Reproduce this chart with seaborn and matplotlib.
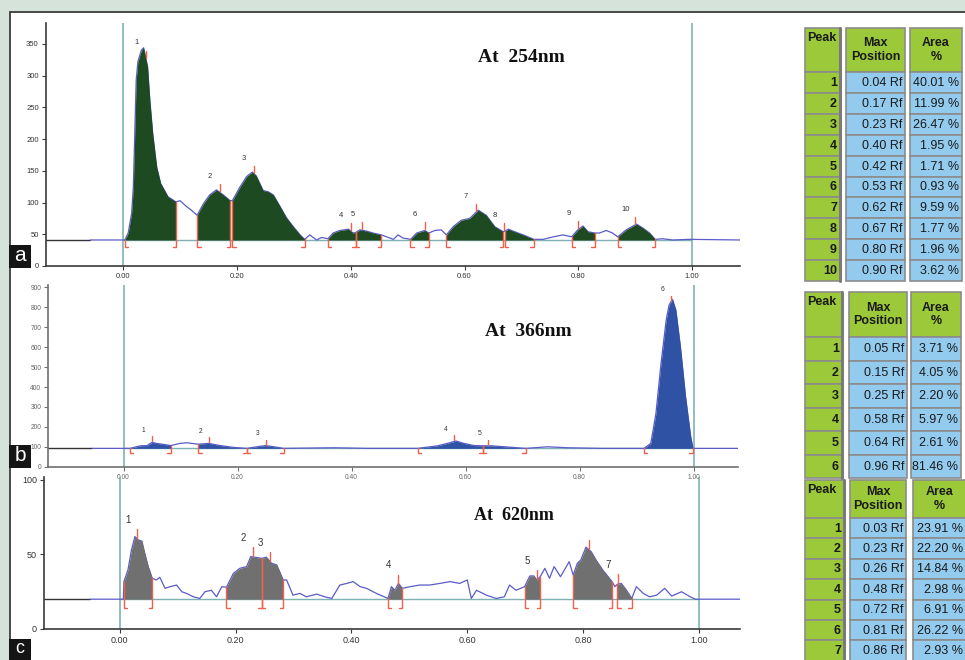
import numpy as np
import pandas as pd
import matplotlib
matplotlib.use("Agg")
import matplotlib.pyplot as plt
from matplotlib.patches import Rectangle
import seaborn as sns

sns.set_style("ticks")
plt.rcParams['font.family'] = ['Liberation Sans', 'DejaVu Sans']

# ---- densitogram traces (Rf, intensity) ----
a_rf = [-0.058, 0.003, 0.009, 0.015, 0.018, 0.021, 0.023, 0.026, 0.032, 0.036, 0.043, 0.047,
        0.052, 0.059, 0.066, 0.079, 0.093, 0.100, 0.111, 0.120, 0.130, 0.141, 0.152, 0.164,
        0.176, 0.188, 0.192, 0.205, 0.217, 0.227, 0.234, 0.246, 0.255, 0.264, 0.275, 0.287,
        0.299, 0.311, 0.319, 0.328, 0.340, 0.349, 0.360, 0.369, 0.381, 0.396, 0.404, 0.409,
        0.416, 0.428, 0.439, 0.454, 0.463, 0.475, 0.483, 0.492, 0.505, 0.516, 0.530, 0.537,
        0.548, 0.559, 0.568, 0.580, 0.594, 0.609, 0.624, 0.638, 0.653, 0.668, 0.671, 0.677,
        0.688, 0.703, 0.722, 0.738, 0.756, 0.773, 0.788, 0.799, 0.808, 0.817, 0.829, 0.837,
        0.849, 0.860, 0.869, 0.884, 0.902, 0.913, 0.925, 0.935, 0.948, 0.966, 0.995, 1.084]
a_val = [41, 41, 52, 83, 125, 225, 293, 322, 340, 344, 314, 261,
         209, 156, 130, 109, 101, 103, 94, 88, 80, 98, 112, 120,
         112, 103, 103, 124, 141, 148, 142, 119, 117, 112, 95, 76,
         62, 49, 42, 49, 41, 45, 43, 52, 56, 58, 52, 53,
         57, 55, 52, 49, 46, 42, 49, 44, 42, 52, 56, 52,
         56, 57, 49, 62, 72, 75, 88, 80, 62, 54, 55, 58,
         54, 49, 42, 42, 46, 49, 46, 57, 63, 54, 52, 52,
         56, 52, 46, 57, 66, 60, 52, 42, 43, 41, 42, 41]
a_start = [0.003, 0.130, 0.192, 0.360, 0.409, 0.505, 0.568, 0.671, 0.788, 0.869]
a_end = [0.093, 0.188, 0.319, 0.409, 0.454, 0.537, 0.668, 0.722, 0.829, 0.935]

b_rf = [-0.055, 0.011, 0.030, 0.041, 0.050, 0.058, 0.070, 0.083, 0.099, 0.111, 0.131, 0.149,
        0.170, 0.193, 0.216, 0.234, 0.249, 0.264, 0.281, 0.369, 0.428, 0.516, 0.551, 0.568,
        0.583, 0.597, 0.615, 0.630, 0.645, 0.668, 0.706, 0.744, 0.779, 0.840, 0.913, 0.925,
        0.934, 0.943, 0.952, 0.957, 0.963, 0.969, 0.977, 0.986, 0.995, 0.999, 1.078]
b_val = [92, 92, 105, 106, 122, 117, 112, 106, 117, 120, 113, 117,
         106, 97, 92, 100, 106, 100, 92, 95, 92, 92, 105, 117,
         129, 117, 106, 105, 105, 100, 92, 100, 95, 92, 92, 117,
         267, 519, 736, 811, 840, 786, 602, 351, 151, 92, 92]
b_start = [0.011, 0.131, 0.216, 0.516, 0.630, 0.913]
b_end = [0.083, 0.216, 0.281, 0.630, 0.706, 0.999]

c_rf = [-0.052, 0.006, 0.007, 0.014, 0.020, 0.026, 0.032, 0.038, 0.043, 0.049, 0.056, 0.063,
        0.069, 0.078, 0.087, 0.098, 0.107, 0.115, 0.127, 0.138, 0.147, 0.158, 0.167, 0.176,
        0.184, 0.196, 0.207, 0.219, 0.226, 0.233, 0.245, 0.253, 0.262, 0.271, 0.282, 0.288,
        0.299, 0.311, 0.322, 0.340, 0.354, 0.366, 0.380, 0.392, 0.403, 0.415, 0.426, 0.443,
        0.463, 0.469, 0.475, 0.481, 0.488, 0.501, 0.518, 0.535, 0.553, 0.570, 0.587, 0.600,
        0.607, 0.616, 0.633, 0.650, 0.664, 0.673, 0.684, 0.699, 0.708, 0.715, 0.720, 0.726,
        0.734, 0.742, 0.750, 0.761, 0.776, 0.783, 0.790, 0.796, 0.805, 0.814, 0.823, 0.834,
        0.850, 0.855, 0.859, 0.866, 0.875, 0.884, 0.892, 0.904, 0.915, 0.927, 0.941, 0.953,
        0.970, 0.985, 0.994, 1.071]
c_val = [20, 20, 31.8, 39.6, 53, 62, 59.7, 59, 50.8, 41.9, 34, 32.9,
         34.7, 27.3, 28.4, 29.5, 25, 23.9, 21.6, 20.5, 25, 26, 21.6, 28.4,
         28, 37.3, 40.7, 41.9, 48.6, 48.2, 47.4, 48.2, 44.1, 43, 32.9, 32.9,
         22.7, 23.9, 21.6, 23.4, 21.6, 20.5, 29.5, 30.6, 31.8, 28.4, 27.3, 23.9,
         20.5, 28.4, 26, 30.6, 27.3, 28.4, 29.5, 29.5, 30.6, 31.8, 30.6, 32.9,
         20.5, 26, 22.7, 20.5, 21.6, 29.5, 26, 28.4, 35.6, 35.6, 32.9, 35.1,
         40.7, 34, 41.9, 35.1, 45.2, 36.2, 44.1, 46.3, 54.9, 51.9, 45.9, 39.6,
         31.8, 28.4, 30, 30.6, 26, 20.5, 28.4, 23.9, 21.6, 22.7, 27.3, 22.1,
         25, 21.6, 20, 20]
c_start = [0.007, 0.184, 0.245, 0.463, 0.699, 0.783, 0.859]
c_end = [0.056, 0.245, 0.282, 0.488, 0.726, 0.850, 0.884]

# ---- peak tables ----
t1_peak = [1, 2, 3, 4, 5, 6, 7, 8, 9, 10]
t1_pos = [0.04, 0.17, 0.23, 0.40, 0.42, 0.53, 0.62, 0.67, 0.80, 0.90]
t1_area = [40.01, 11.99, 26.47, 1.95, 1.71, 0.93, 9.59, 1.77, 1.96, 3.62]

t2_peak = [1, 2, 3, 4, 5, 6]
t2_pos = [0.05, 0.15, 0.25, 0.58, 0.64, 0.96]
t2_area = [3.71, 4.05, 2.20, 5.97, 2.61, 81.46]

t3_peak = [1, 2, 3, 4, 5, 6, 7]
t3_pos = [0.03, 0.23, 0.26, 0.48, 0.72, 0.81, 0.86]
t3_area = [23.91, 22.20, 14.84, 2.98, 6.91, 26.22, 2.93]
t3_labels = ['1', '2', '3', '4', '5', '', '7']

W, H = 965, 660
TEAL = '#7fb2b4'
TRACE = '#5b5bc9'
RED = '#f0604a'
GREEN = '#9bc93a'
BLUE = '#93cbef'
EDGE = '#8c8c8c'

fig = plt.figure(figsize=(W / 100, H / 100), dpi=100, facecolor='#d6e3da')
bg = fig.add_axes([0, 0, 1, 1], zorder=0)
bg.set_xlim(0, W)
bg.set_ylim(H, 0)
bg.axis('off')
bg.add_patch(Rectangle((10, 12), W - 10, H - 12, facecolor='white', edgecolor='none'))
bg.plot([10, 10], [12, H], color='#3c3c3c', lw=1.3)
bg.plot([10, W], [12, 12], color='#3c3c3c', lw=1.3)


def panel(box, xlim, ylim, yticks, fs, spine_col):
    l, r, t, b = box
    ax = fig.add_axes([l / W, 1 - b / H, (r - l) / W, (b - t) / H], zorder=1)
    ax.set_facecolor('none')
    ax.set_xlim(*xlim)
    ax.set_ylim(*ylim)
    ax.set_xticks([0, 0.2, 0.4, 0.6, 0.8, 1.0])
    ax.set_xticklabels(['%.2f' % v for v in [0, 0.2, 0.4, 0.6, 0.8, 1.0]])
    ax.set_yticks(yticks)
    for s in ['top', 'right']:
        ax.spines[s].set_visible(False)
    for s in ['left', 'bottom']:
        ax.spines[s].set_color(spine_col)
        ax.spines[s].set_linewidth(1.2)
    ax.tick_params(direction='out', length=3, width=0.8, colors=spine_col,
                   labelsize=fs, labelcolor='#333333', pad=2)
    return ax, (r - l) / (xlim[1] - xlim[0]), (b - t) / (ylim[1] - ylim[0])


def chrom(ax, sx, sy, rf, val, base, starts, ends, maxpos, labels, fill,
          bracket_px, mark_px, lab_fs, lab_off):
    rf = np.array(rf, float)
    val = np.array(val, float)
    x0 = ax.get_xlim()[0]
    ax.plot([x0, rf[0]], [base, base], color='#333333', lw=1.0, zorder=2)
    ax.plot([0, 1], [base, base], color=TEAL, lw=1.0, zorder=2)
    ax.axvline(0, color=TEAL, lw=1.2, zorder=2)
    ax.axvline(1, color=TEAL, lw=1.2, zorder=2)
    df = pd.DataFrame({'Rf': rf, 'value': val})
    sns.lineplot(data=df, x='Rf', y='value', ax=ax, color=TRACE, lw=0.9,
                 sort=False, estimator=None, zorder=3)
    ax.set_xlabel('')
    ax.set_ylabel('')
    dy = bracket_px / sy
    fx = 3.5 / sx
    for s, e in zip(starts, ends):
        inner = rf[(rf > s) & (rf < e)]
        xs = np.concatenate([[s], inner, [e]])
        ys = np.interp(xs, rf, val)
        ax.fill_between(xs, base, ys, color=fill, lw=0, zorder=4)
        for xb, d in ((s, fx), (e, -fx)):
            vb = np.interp(xb, rf, val)
            ax.plot([xb, xb, xb + d], [vb, base - dy, base - dy], color=RED,
                    lw=1.0, zorder=5, solid_joinstyle='miter')
    for m, lbl in zip(maxpos, labels):
        vm = np.interp(m, rf, val)
        top = vm + (mark_px + 1) / sy
        ax.plot([m, m], [vm + 1 / sy, top], color=RED, lw=1.0, zorder=5)
        if lbl:
            ax.annotate(lbl, xy=(m, top), xytext=lab_off, textcoords='offset points',
                        ha='center', va='bottom', fontsize=lab_fs, color='#333333')


# panel a : 254 nm
ax_a, sxa, sya = panel((45.7, 740, 23, 266), (-0.136, 1.084), (0, 383),
                       [0, 50, 100, 150, 200, 250, 300, 350], 5.5, '#3a3a3a')
chrom(ax_a, sxa, sya, a_rf, a_val, 41, a_start, a_end, t1_pos,
      [str(p) for p in t1_peak], '#1d4a20', 7.5, 7, 5.5, (-7, 3))

# panel b : 366 nm
ax_b, sxb, syb = panel((48.3, 738, 285, 466.7), (-0.132, 1.078), (0, 912),
                       list(range(0, 1000, 100)), 4.8, '#707070')
chrom(ax_b, sxb, syb, b_rf, b_val, 92, b_start, b_end, t2_pos,
      [str(p) for p in t2_peak], '#2f52a5', 5, 5, 4.8, (-6, 2))
for lbl in ax_b.get_xticklabels() + ax_b.get_yticklabels():
    lbl.set_color('#666666')

# panel c : 620 nm
ax_c, sxc, syc = panel((44, 740, 477.3, 629), (-0.131, 1.071), (0, 101.8),
                       [0, 50, 100], 6.5, '#3a3a3a')
chrom(ax_c, sxc, syc, c_rf, c_val, 20, c_start, c_end, t3_pos,
      t3_labels, '#707070', 9, 9, 7, (-7, 3))

# titles
for txt, cx, cy, fs in (('At  254nm', 521, 57, 14), ('At  366nm', 528, 332, 14),
                        ('At  620nm', 514, 515, 13)):
    bg.text(cx, cy, txt, ha='center', va='center', fontsize=fs, fontweight='bold',
            family=['Liberation Serif', 'DejaVu Serif'], color='#111111')

# panel letters
for lt, y0, hh, fs in (('a', 245, 23, 15), ('b', 445, 23, 15), ('c', 639, 21, 13)):
    bg.add_patch(Rectangle((9, y0), 22, hh, facecolor='#151515', edgecolor='none', zorder=5))
    bg.text(20, y0 + hh / 2 - 1, lt, ha='center', va='center', color='white',
            fontsize=fs, zorder=6)


def table(top, head_h, row_h, cols, peaks, pos, area):
    for x0, x1 in cols:
        bg.add_patch(Rectangle((x0, top), x1 - x0, head_h, facecolor=GREEN,
                               edgecolor=EDGE, lw=1.2))
    bg.text(cols[0][0] + 2, top + 4, 'Peak', ha='left', va='top', fontsize=9,
            fontweight='bold', color='#1a1a1a')
    for (x0, x1), hd in zip(cols[1:], ('Max\nPosition', 'Area\n%')):
        bg.text((x0 + x1) / 2, top + head_h / 2, hd, ha='center', va='center',
                fontsize=9, fontweight='bold', color='#1a1a1a', linespacing=1.15)
    n = len(peaks)
    for i, (p, r, a) in enumerate(zip(peaks, pos, area)):
        y0 = top + head_h + i * row_h
        for j, (x0, x1) in enumerate(cols):
            bg.add_patch(Rectangle((x0, y0), x1 - x0, row_h,
                                   facecolor=GREEN if j == 0 else BLUE,
                                   edgecolor=EDGE, lw=1.2))
        yc = y0 + row_h / 2 + 0.5
        bg.text(cols[0][1] - 3, yc, str(p), ha='right', va='center', fontsize=9,
                fontweight='bold', color='#1a1a1a')
        bg.text(cols[1][1] - 3, yc, '%.2f Rf' % r, ha='right', va='center',
                fontsize=9, color='#1a1a1a')
        bg.text(cols[2][1] - 3, yc, '%.2f %%' % a, ha='right', va='center',
                fontsize=9, color='#1a1a1a')
    # darker strip on the right side of the Peak column
    xr = cols[0][1]
    bg.plot([xr, xr], [top, top + head_h + n * row_h], color='#7a7a7a', lw=2.2, zorder=3)


table(28, 44, 20.9, [(805, 840), (846, 905), (910, 962)], t1_peak, t1_pos, t1_area)
table(292, 45, 23.5, [(805, 842), (849, 907), (911, 961)], t2_peak, t2_pos, t2_area)
table(480, 38, 20.4, [(805, 844), (850, 906), (913, 966)], t3_peak, t3_pos, t3_area)

fig.savefig('out.png', dpi=100, facecolor=fig.get_facecolor())
